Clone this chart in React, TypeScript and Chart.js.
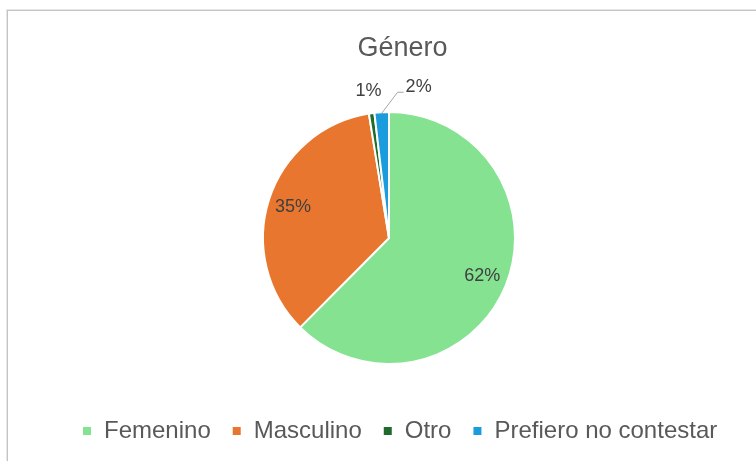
import React, { useEffect, useRef } from 'react';
import { Chart, registerables } from 'chart.js';

Chart.register(...registerables);

const chartTitle = 'Género';
const categories = ['Femenino', 'Masculino', 'Otro', 'Prefiero no contestar'];
const shares = [62.45, 35.0, 0.7, 1.85];
const sliceColors = ['#84E291', '#E8762F', '#1F6B2B', '#1B9CDC'];

const FONT = '"Liberation Sans", Arial, Helvetica, sans-serif';

const sliceLabelPlugin = {
  id: 'sliceLabels',
  afterDatasetsDraw(chart: any) {
    const ctx = chart.ctx as CanvasRenderingContext2D;
    const meta = chart.getDatasetMeta(0);
    const data = chart.data.datasets[0].data as number[];
    const total = data.reduce((a, b) => a + b, 0);
    ctx.save();
    ctx.font = `18px ${FONT}`;
    ctx.fillStyle = '#404040';
    ctx.textAlign = 'center';
    ctx.textBaseline = 'middle';
    let prevRight = -Infinity;
    meta.data.forEach((arc: any, i: number) => {
      const { x, y, startAngle, endAngle, outerRadius } = arc.getProps(
        ['x', 'y', 'startAngle', 'endAngle', 'outerRadius'],
        true
      );
      const pct = (data[i] / total) * 100;
      const text = Math.round(pct) + '%';
      const mid = (startAngle + endAngle) / 2;
      const w = ctx.measureText(text).width;
      if (pct >= 5) {
        const r = outerRadius * 0.8;
        ctx.fillText(text, x + Math.cos(mid) * r, y + Math.sin(mid) * r);
      } else {
        const r = outerRadius + 22;
        let lx = x + Math.cos(mid) * r;
        let ly = y + Math.sin(mid) * r;
        if (lx - w / 2 < prevRight + 4) {
          const left = prevRight + 24;
          lx = left + w / 2;
          ly = ly - 3;
          const ex = x + Math.cos(mid) * (outerRadius - 1);
          const ey = y + Math.sin(mid) * (outerRadius - 1);
          ctx.save();
          ctx.strokeStyle = '#A6A6A6';
          ctx.lineWidth = 1;
          ctx.beginPath();
          ctx.moveTo(ex, ey);
          ctx.lineTo(left - 8, ly + 5);
          ctx.lineTo(left - 2, ly + 5);
          ctx.stroke();
          ctx.restore();
        }
        ctx.fillText(text, lx, ly);
        prevRight = lx + w / 2;
      }
    });
    ctx.restore();
  },
};

export default function App() {
  const canvasRef = useRef<HTMLCanvasElement | null>(null);

  useEffect(() => {
    if (!canvasRef.current) return;
    const chart = new Chart(canvasRef.current, {
      type: 'pie',
      data: {
        labels: categories,
        datasets: [
          {
            data: shares,
            backgroundColor: sliceColors,
            borderColor: '#FFFFFF',
            borderWidth: 2,
            radius: 126,
          } as any,
        ],
      },
      options: {
        responsive: false,
        animation: false,
        layout: { padding: { left: 61, right: 12, top: 0, bottom: 8 } },
        plugins: {
          title: {
            display: true,
            text: chartTitle,
            color: '#595959',
            font: { size: 27, family: FONT, weight: 'normal' },
            padding: { top: 32, bottom: 13.6 },
          },
          subtitle: {
            display: true,
            position: 'right',
            text: ' ',
            color: 'rgba(0,0,0,0)',
            font: { size: 10, family: FONT },
            padding: { top: 7.5, bottom: 7.5 },
          },
          legend: {
            position: 'bottom',
            align: 'start',
            labels: {
              boxWidth: 10,
              boxHeight: 10,
              padding: 21,
              color: '#595959',
              font: { size: 24, family: FONT },
            },
          },
          tooltip: { enabled: false },
        },
      } as any,
      plugins: [sliceLabelPlugin],
    });
    return () => chart.destroy();
  }, []);

  return (
    <div style={{ position: 'fixed', left: 0, top: 0, width: 756, height: 461, background: '#FFFFFF', overflow: 'hidden' }}>
      <canvas ref={canvasRef} width={756} height={461} style={{ position: 'absolute', left: 0, top: 0, width: 756, height: 461 }} />
      <div
        style={{
          position: 'absolute',
          left: 7,
          top: 10,
          width: 800,
          height: 500,
          borderLeft: '1px solid #C4C4C4',
          borderTop: '1px solid #C4C4C4',
          boxShadow: '-1px -1px 0 #E6E6E6',
          pointerEvents: 'none',
        }}
      />
    </div>
  );
}
